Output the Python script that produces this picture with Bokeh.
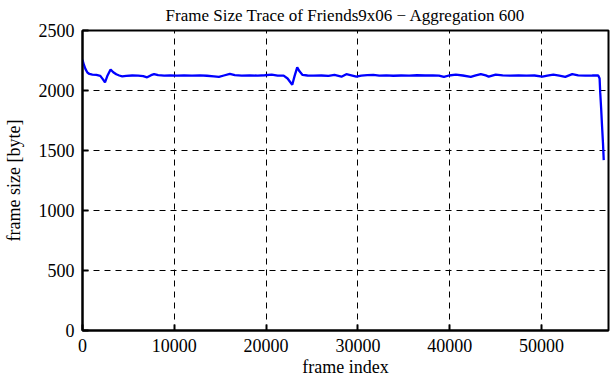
from bokeh.plotting import figure
from bokeh.models import Range1d, FixedTicker
from bokeh.embed import file_html
from bokeh.resources import INLINE

title_text = "Frame Size Trace of Friends9x06 \u2212 Aggregation 600"
x_label = "frame index"
y_label = "frame size [byte]"
x_ticks = [0, 10000, 20000, 30000, 40000, 50000]
y_ticks = [0, 500, 1000, 1500, 2000, 2500]

frames = [0, 150, 315, 530, 750, 1075, 1510, 1940, 2210, 2450, 2700, 3060, 3350, 3680,
          4000, 4330, 4760, 5410, 6070, 6610, 7040, 7470, 7800, 8240, 8890, 9540, 10290,
          11060, 11930, 12790, 13550, 14310, 14860, 15400, 16050, 16590, 17350, 18220,
          19090, 19850, 20610, 21260, 21910, 22340, 22850, 23100, 23390, 23640, 23970,
          24510, 25160, 26030, 26800, 27450, 27880, 28210, 28740, 29290, 29830, 30370,
          31020, 31680, 32330, 33090, 33850, 34710, 35580, 36450, 37310, 38180, 38830,
          39370, 39910, 40670, 41430, 42300, 42840, 43390, 43930, 44250, 45010, 45770,
          46640, 47500, 48370, 49240, 50100, 50640, 51290, 51940, 52590, 53350, 54000,
          54770, 55530, 56180, 56330, 56400, 56500, 56600, 56700, 56780]
sizes = [2255, 2215, 2180, 2150, 2138, 2132, 2130, 2122, 2095, 2068, 2120, 2175, 2152, 2135,
         2125, 2118, 2122, 2125, 2124, 2120, 2110, 2128, 2137, 2128, 2124, 2126, 2124,
         2126, 2124, 2126, 2123, 2118, 2114, 2125, 2138, 2128, 2124, 2126,
         2124, 2127, 2132, 2124, 2124, 2100, 2048, 2120, 2192, 2160, 2130,
         2125, 2124, 2125, 2122, 2130, 2122, 2115, 2136, 2126, 2115, 2124,
         2128, 2131, 2124, 2126, 2123, 2125, 2124, 2127, 2125, 2126, 2124,
         2113, 2125, 2132, 2125, 2114, 2126, 2136, 2126, 2116, 2133, 2126,
         2124, 2126, 2124, 2125, 2116, 2124, 2132, 2124, 2114, 2136, 2126,
         2124, 2125, 2126, 2100, 1980, 1850, 1700, 1560, 1420]

FONT = "Liberation Serif"
FS = "18px"

p = figure(width=611, height=380, output_backend="svg", toolbar_location=None,
           x_range=Range1d(0, 57300), y_range=Range1d(0, 2500),
           min_border_left=80, min_border_right=3, min_border_top=30, min_border_bottom=50)

p.title.text = title_text
p.title.text_font = FONT
p.title.text_font_size = "17px"
p.title.text_font_style = "normal"
p.title.text_color = "black"
p.title.align = "center"
p.title.vertical_align = "top"
p.title.standoff = 8

p.line(frames, sizes, line_color="#0000ff", line_width=2.3)

p.outline_line_color = "black"
p.outline_line_width = 2
p.outline_line_alpha = 1

for ax in (p.xaxis[0], p.yaxis[0]):
    ax.axis_line_width = 2
    ax.axis_line_color = "black"
    ax.major_tick_in = 6
    ax.major_tick_out = 0
    ax.major_tick_line_width = 2
    ax.major_tick_line_color = "black"
    ax.minor_tick_line_color = None
    ax.major_label_text_font = FONT
    ax.major_label_text_font_size = FS
    ax.major_label_text_color = "black"
    ax.axis_label_text_font = FONT
    ax.axis_label_text_font_size = FS
    ax.axis_label_text_font_style = "normal"
    ax.axis_label_text_color = "black"

p.xaxis[0].ticker = FixedTicker(ticks=x_ticks)
p.yaxis[0].ticker = FixedTicker(ticks=y_ticks)
p.xaxis[0].axis_label = x_label
p.yaxis[0].axis_label = y_label
p.xaxis[0].major_label_standoff = 8
p.yaxis[0].major_label_standoff = 8
p.xaxis[0].axis_label_standoff = 2
p.yaxis[0].axis_label_standoff = 12

p.xgrid.ticker = FixedTicker(ticks=x_ticks)
p.ygrid.ticker = FixedTicker(ticks=y_ticks)
for g in (p.xgrid[0], p.ygrid[0]):
    g.grid_line_color = "black"
    g.grid_line_width = 1
    g.grid_line_dash = "6 5"
    g.grid_line_alpha = 1

open("out.html", "w").write(file_html(p, INLINE))
